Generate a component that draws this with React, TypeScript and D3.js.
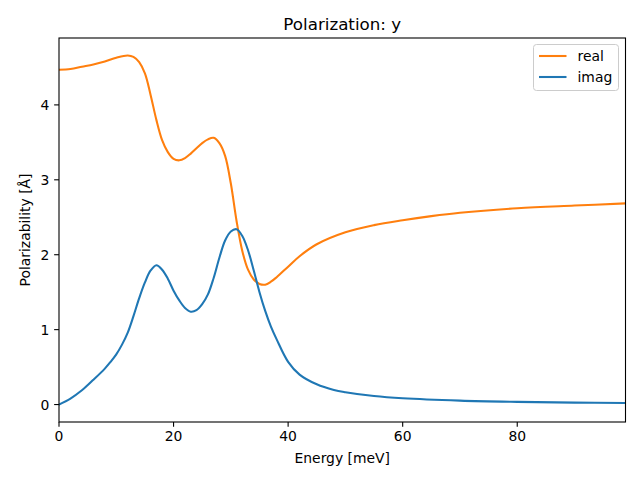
import React from "react";
import * as d3 from "d3";

const energyReal = [0, 2, 4, 6, 8, 10, 12, 13, 14, 15, 16, 17, 18, 19, 20, 21, 22, 23, 24, 25, 26, 27, 28, 29, 30, 31, 32, 33, 34, 35, 36, 37, 38, 40, 42, 45, 50, 55, 60, 65, 70, 80, 90, 98.9];
const realValues = [4.47, 4.48, 4.51, 4.54, 4.58, 4.63, 4.66, 4.64, 4.57, 4.42, 4.13, 3.8, 3.53, 3.37, 3.28, 3.26, 3.29, 3.35, 3.42, 3.49, 3.54, 3.56, 3.49, 3.32, 2.95, 2.45, 2.05, 1.8, 1.67, 1.61, 1.6, 1.64, 1.7, 1.84, 1.98, 2.14, 2.3, 2.395, 2.46, 2.515, 2.56, 2.62, 2.656, 2.685];

const energyImag = [0, 2, 4, 6, 8, 9, 10, 11, 12, 13, 14, 15, 16, 17, 18, 19, 20, 21, 22, 23, 24, 25, 26, 27, 28, 29, 30, 31, 32, 33, 34, 35, 36, 37, 38, 40, 42, 45, 48, 50, 55, 60, 70, 80, 90, 98.9];
const imagValues = [0, 0.08, 0.19, 0.33, 0.48, 0.57, 0.67, 0.8, 0.96, 1.18, 1.42, 1.63, 1.79, 1.86, 1.8, 1.68, 1.52, 1.39, 1.29, 1.24, 1.26, 1.34, 1.47, 1.69, 1.96, 2.19, 2.31, 2.34, 2.25, 2.06, 1.79, 1.5, 1.25, 1.04, 0.87, 0.57, 0.4, 0.27, 0.195, 0.165, 0.113, 0.083, 0.052, 0.036, 0.026, 0.02];

const xTicks = [0, 20, 40, 60, 80];
const yTicks = [0, 1, 2, 3, 4];
const seriesNames = ["real", "imag"];
const seriesColors = ["#ff7f0e", "#1f77b4"];

const W = 640, H = 480;
const left = 59, right = 625.5, top = 38, bottom = 422;
const FONT = "DejaVu Sans, sans-serif";

export default function App() {
  const x = d3.scaleLinear().domain([0, 98.9]).range([left, right]);
  const yMin = 0, yMax = 4.66;
  const pad = (yMax - yMin) * 0.05;
  const y = d3.scaleLinear().domain([yMin - pad, yMax + pad]).range([bottom, top]);

  const line = d3
    .line<[number, number]>()
    .x((d) => x(d[0]))
    .y((d) => y(d[1]))
    .curve(d3.curveCatmullRom.alpha(0.5));

  const realPts = energyReal.map((e, i) => [e, realValues[i]] as [number, number]);
  const imagPts = energyImag.map((e, i) => [e, imagValues[i]] as [number, number]);
  const paths = [realPts, imagPts];

  const tickLen = 4.86;
  const fs = 13.9;

  return (
    <svg width={W} height={H} style={{ position: "absolute", left: 0, top: 0 }} fontFamily={FONT}>
      <rect x={0} y={0} width={W} height={H} fill="#fff" />
      <defs>
        <clipPath id="plotclip">
          <rect x={left} y={top} width={right - left} height={bottom - top} />
        </clipPath>
      </defs>
      <g clipPath="url(#plotclip)">
        {paths.map((p, i) => (
          <path key={i} d={line(p) || ""} fill="none" stroke={seriesColors[i]} strokeWidth={2.08} strokeLinejoin="round" strokeLinecap="square" />
        ))}
      </g>
      <rect x={left} y={top} width={right - left} height={bottom - top} fill="none" stroke="#000" strokeWidth={1.1} />
      {xTicks.map((t) => (
        <g key={"x" + t}>
          <line x1={x(t)} x2={x(t)} y1={bottom} y2={bottom + tickLen} stroke="#000" strokeWidth={1.1} />
          <text x={x(t)} y={bottom + tickLen + 3.5 + fs * 0.76} textAnchor="middle" fontSize={fs} fill="#000">{t}</text>
        </g>
      ))}
      {yTicks.map((t) => (
        <g key={"y" + t}>
          <line x1={left - tickLen} x2={left} y1={y(t)} y2={y(t)} stroke="#000" strokeWidth={1.1} />
          <text x={left - tickLen - 4.86} y={y(t)} dy="0.36em" textAnchor="end" fontSize={fs} fill="#000">{t}</text>
        </g>
      ))}
      <text x={(left + right) / 2} y={463} textAnchor="middle" fontSize={fs} fill="#000">Energy [meV]</text>
      <text transform={`translate(30, ${(top + bottom) / 2}) rotate(-90)`} textAnchor="middle" fontSize={fs} fill="#000">Polarizability [Å]</text>
      <text x={(left + right) / 2} y={29.5} textAnchor="middle" fontSize={16.7} fill="#000">Polarization: y</text>
      <g>
        <rect x={533.5} y={44.5} width={85} height={46} rx={3} ry={3} fill="#fff" fillOpacity={0.8} stroke="#cccccc" strokeWidth={1} />
        {seriesNames.map((n, i) => (
          <g key={n}>
            <line x1={539} x2={566.5} y1={56 + i * 21} y2={56 + i * 21} stroke={seriesColors[i]} strokeWidth={2.08} />
            <text x={577.5} y={56 + i * 21} dy="0.36em" fontSize={fs} fill="#000">{n}</text>
          </g>
        ))}
      </g>
    </svg>
  );
}
